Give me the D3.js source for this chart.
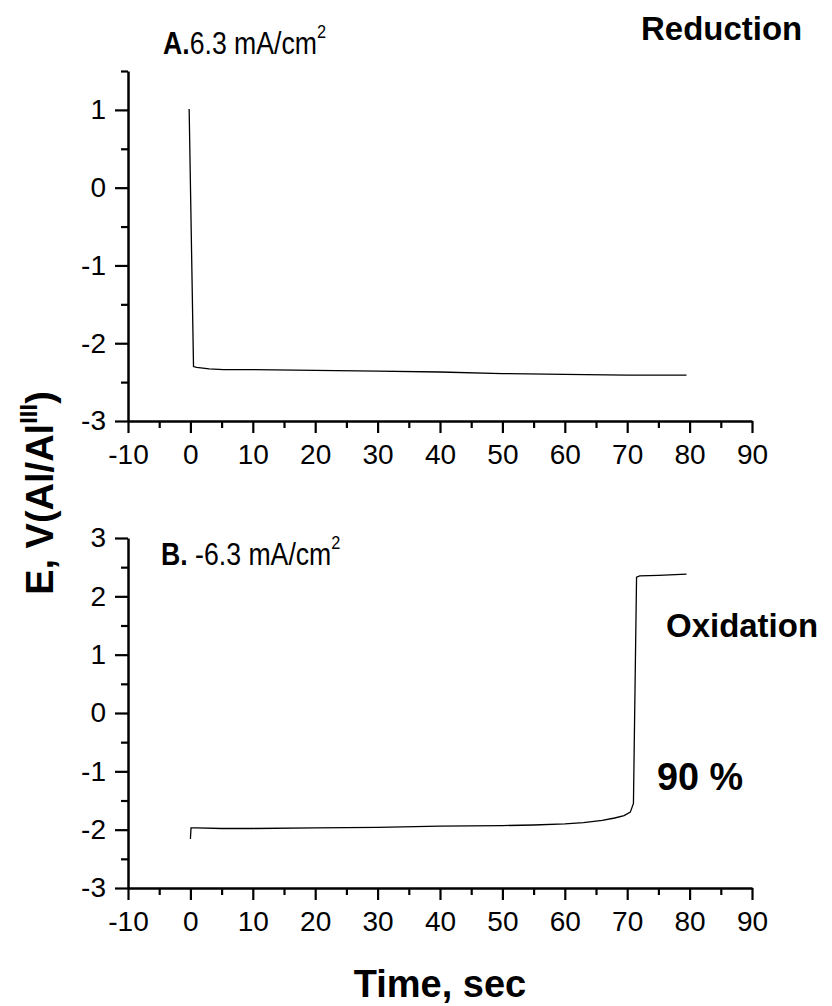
<!DOCTYPE html>
<html><head><meta charset="utf-8">
<script src="https://cdn.jsdelivr.net/npm/d3@7"></script>
<style>
body{margin:0;background:#fff;}
svg{display:block;}
text{font-family:"Liberation Sans",Arial,sans-serif;fill:#000;}
</style></head>
<body>
<svg id="c" width="832" height="1006"></svg>
<script>
// Panel A (reduction, +6.3 mA/cm2)
const timeA = [-0.2, 0.5, 1, 3, 5.3, 10, 20, 30, 40, 50, 60, 70, 79.5];
const potA  = [1.01, -2.30, -2.31, -2.33, -2.34, -2.34, -2.35, -2.36, -2.37, -2.39, -2.40, -2.41, -2.41];
// Panel B (oxidation, -6.3 mA/cm2)
const timeB = [0, 0.1, 1, 5, 10, 20, 30, 40, 50, 55, 60, 63, 66, 68, 69.5, 70.5, 71, 71.5, 72, 75, 79.5];
const potB  = [-2.16, -1.97, -1.97, -1.98, -1.98, -1.97, -1.96, -1.94, -1.93, -1.92, -1.90, -1.88, -1.84, -1.80, -1.76, -1.70, -1.55, 2.33, 2.35, 2.36, 2.38];

const xTicks = [-10, 0, 10, 20, 30, 40, 50, 60, 70, 80, 90];
const yTicksA = [-3, -2, -1, 0, 1];
const yTicksB = [-3, -2, -1, 0, 1, 2, 3];

const svg = d3.select("#c");
const X0 = 128, X1 = 752;
const x = d3.scaleLinear().domain([-10, 90]).range([X0, X1]);

function panel(yDomain, yRange, yTicks, minorY, tData, eData) {
  const y = d3.scaleLinear().domain(yDomain).range(yRange);
  const g = svg.append("g");
  const xa = g.append("g").attr("transform", `translate(0,${yRange[0]})`)
    .call(d3.axisBottom(x).tickValues(xTicks).tickSize(12).tickSizeOuter(0).tickPadding(11));
  const xm = g.append("g").attr("transform", `translate(0,${yRange[0]})`)
    .call(d3.axisBottom(x).tickValues(d3.range(-5, 90, 10)).tickFormat("").tickSize(7).tickSizeOuter(0));
  xm.select(".domain").remove();
  const ya = g.append("g").attr("transform", `translate(${X0},0)`)
    .call(d3.axisLeft(y).tickValues(yTicks).tickSize(13).tickSizeOuter(0).tickPadding(9));
  const ym = g.append("g").attr("transform", `translate(${X0},0)`)
    .call(d3.axisLeft(y).tickValues(minorY).tickFormat("").tickSize(7).tickSizeOuter(0));
  ym.select(".domain").remove();
  g.selectAll(".domain").attr("stroke", "#000").attr("stroke-width", 2.5);
  g.selectAll(".tick line").attr("stroke", "#000").attr("stroke-width", 2.2);
  g.selectAll(".tick text").attr("font-size", 28).attr("font-family", "Liberation Sans, Arial, sans-serif").attr("fill", "#000");
  xa.selectAll(".tick text").text(d => d < 0 ? "-" + Math.abs(d) : d);
  ya.selectAll(".tick text").text(d => d < 0 ? "-" + Math.abs(d) : d);
  const line = d3.line().x(d => x(d[0])).y(d => y(d[1]));
  g.append("path").datum(tData.map((t, i) => [t, eData[i]]))
    .attr("d", line).attr("fill", "none").attr("stroke", "#000").attr("stroke-width", 1.3);
  return y;
}

panel([-3, 1.5], [421, 71], yTicksA, [-2.5, -1.5, -0.5, 0.5, 1.5], timeA, potA);
panel([-3, 3], [888, 538], yTicksB, [-2.5, -1.5, -0.5, 0.5, 1.5, 2.5], timeB, potB);

// condensed text helper (horizontal squeeze like the original)
function ctext(xp, yp, size, sx) {
  return svg.append("g").attr("transform", `translate(${xp},${yp}) scale(${sx},1)`)
    .append("text").attr("font-size", size);
}

const tA = ctext(163, 54, 31, 0.86);
tA.append("tspan").attr("font-weight", "bold").text("A.");
tA.append("tspan").text("6.3 mA/cm");
tA.append("tspan").attr("font-size", 19).attr("dy", -16).text("2");

const tB = ctext(161, 565, 31, 0.86);
tB.append("tspan").attr("font-weight", "bold").text("B.");
tB.append("tspan").text(" -6.3 mA/cm");
tB.append("tspan").attr("font-size", 19).attr("dy", -16).text("2");

ctext(641, 40, 34, 0.97).attr("font-weight", "bold").text("Reduction");
ctext(666, 637, 34, 0.97).attr("font-weight", "bold").text("Oxidation");
ctext(657, 790, 39, 0.97).attr("font-weight", "bold").text("90 %");

svg.append("text").attr("x", 440).attr("y", 997).attr("text-anchor", "middle")
  .attr("font-size", 38).attr("font-weight", "bold").text("Time, sec");

const yl = svg.append("text").attr("transform", "translate(53,493) rotate(-90)")
  .attr("text-anchor", "middle").attr("font-size", 38).attr("font-weight", "bold");
yl.append("tspan").text("E, V(Al/Al");
yl.append("tspan").attr("font-size", 24).attr("dy", -16).text("III");
yl.append("tspan").attr("dy", 16).text(")");
</script>
</body></html>
